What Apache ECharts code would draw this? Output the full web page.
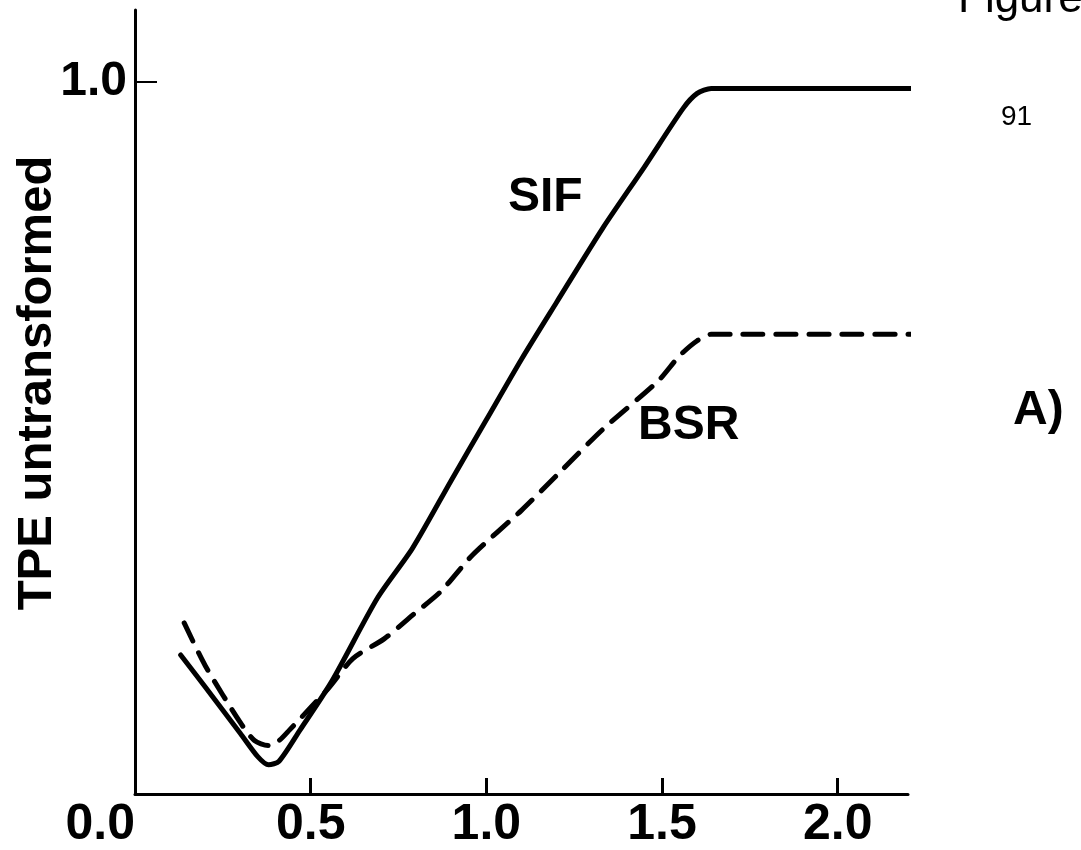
<!DOCTYPE html>
<html>
<head>
<meta charset="utf-8">
<script src="https://cdn.jsdelivr.net/npm/echarts@6/dist/echarts.min.js"></script>
<style>
  html, body { margin: 0; padding: 0; background: #fff; }
  #chart { width: 1081px; height: 850px; }
</style>
</head>
<body>
<div id="chart"></div>
<script>
// SIF (solid) curve
const sifX = [0.13, 0.2, 0.3, 0.35, 0.38, 0.41, 0.47, 0.56, 0.69, 0.79, 0.9, 1.0, 1.1, 1.2, 1.33, 1.45, 1.56, 1.6, 1.64, 1.7, 2.0, 2.22];
const sifY = [0.195, 0.15, 0.085, 0.052, 0.041, 0.046, 0.09, 0.158, 0.275, 0.345, 0.44, 0.525, 0.61, 0.69, 0.793, 0.88, 0.962, 0.983, 0.99, 0.99, 0.99, 0.99];

// BSR (dashed) curve
const bsrX = [0.14, 0.2, 0.3, 0.34, 0.38, 0.41, 0.44, 0.55, 0.62, 0.71, 0.79, 0.87, 0.96, 1.1, 1.2, 1.33, 1.49, 1.55, 1.6, 1.64, 1.7, 2.0, 2.21];
const bsrY = [0.24, 0.18, 0.10, 0.075, 0.068, 0.075, 0.09, 0.148, 0.19, 0.218, 0.251, 0.284, 0.335, 0.398, 0.447, 0.511, 0.58, 0.615, 0.636, 0.645, 0.645, 0.645, 0.645];

const xTicks = [0, 0.5, 1.0, 1.5, 2.0];
const yTicks = [1.0];

const chart = echarts.init(document.getElementById("chart"));

const font = "Liberation Sans, Arial, sans-serif";

const option = {
  animation: false,
  backgroundColor: "#fff",
  grid: {
    left: 135,
    right: 173,
    top: 10,
    bottom: 54,
  },
  xAxis: {
    type: "value",
    min: 0,
    max: 2.2,
    axisLine: { show: true, lineStyle: { color: "#000", width: 3 } },
    axisTick: {
      show: true,
      inside: true,
      length: 16,
      customValues: xTicks.slice(1),
      lineStyle: { color: "#000", width: 3 },
    },
    axisLabel: {
      customValues: xTicks,
      formatter: (v) => v.toFixed(1),
      color: "#000",
      fontFamily: font,
      fontWeight: "bold",
      fontSize: 50,
      margin: 6,
      alignMinLabel: "right",
    },
    splitLine: { show: false },
  },
  yAxis: {
    type: "value",
    min: 0,
    max: 1.1,
    axisLine: { show: true, lineStyle: { color: "#000", width: 3 } },
    axisTick: {
      show: true,
      inside: true,
      length: 22,
      customValues: yTicks,
      lineStyle: { color: "#000", width: 2 },
    },
    axisLabel: {
      customValues: yTicks,
      formatter: (v) => v.toFixed(1),
      color: "#000",
      fontFamily: font,
      fontWeight: "bold",
      fontSize: 48,
      margin: 8,
    },
    splitLine: { show: false },
  },
  series: [
    {
      name: "SIF",
      type: "line",
      data: sifX.map((x, i) => [x, sifY[i]]),
      showSymbol: false,
      smooth: 0.25,
      clip: false,
      lineStyle: { color: "#000", width: 5, cap: "round", join: "round" },
    },
    {
      name: "BSR",
      type: "line",
      data: bsrX.map((x, i) => [x, bsrY[i]]),
      showSymbol: false,
      smooth: 0.25,
      clip: false,
      lineStyle: { color: "#000", width: 5, type: [20, 13], cap: "round", join: "round" },
    },
  ],
  graphic: [
    // y axis title, rotated
    {
      type: "text",
      x: 37,
      y: 383,
      rotation: Math.PI / 2,
      style: {
        text: "TPE untransformed",
        font: "bold 49px " + font,
        fill: "#000",
        align: "center",
        verticalAlign: "middle",
      },
    },
    { type: "text", left: 508, top: 174, style: { text: "SIF", font: "bold 48px " + font, fill: "#000" } },
    { type: "text", left: 638, top: 402, style: { text: "BSR", font: "bold 48px " + font, fill: "#000" } },
    { type: "text", left: 1013, top: 387, style: { text: "A)", font: "bold 48px " + font, fill: "#000" } },
    { type: "text", left: 1001, top: 103, style: { text: "91", font: "28px " + font, fill: "#000" } },
    { type: "text", left: 958, top: -22, style: { text: "Figure", font: "44px " + font, fill: "#000" } },
  ],
};

chart.setOption(option);
</script>
</body>
</html>
